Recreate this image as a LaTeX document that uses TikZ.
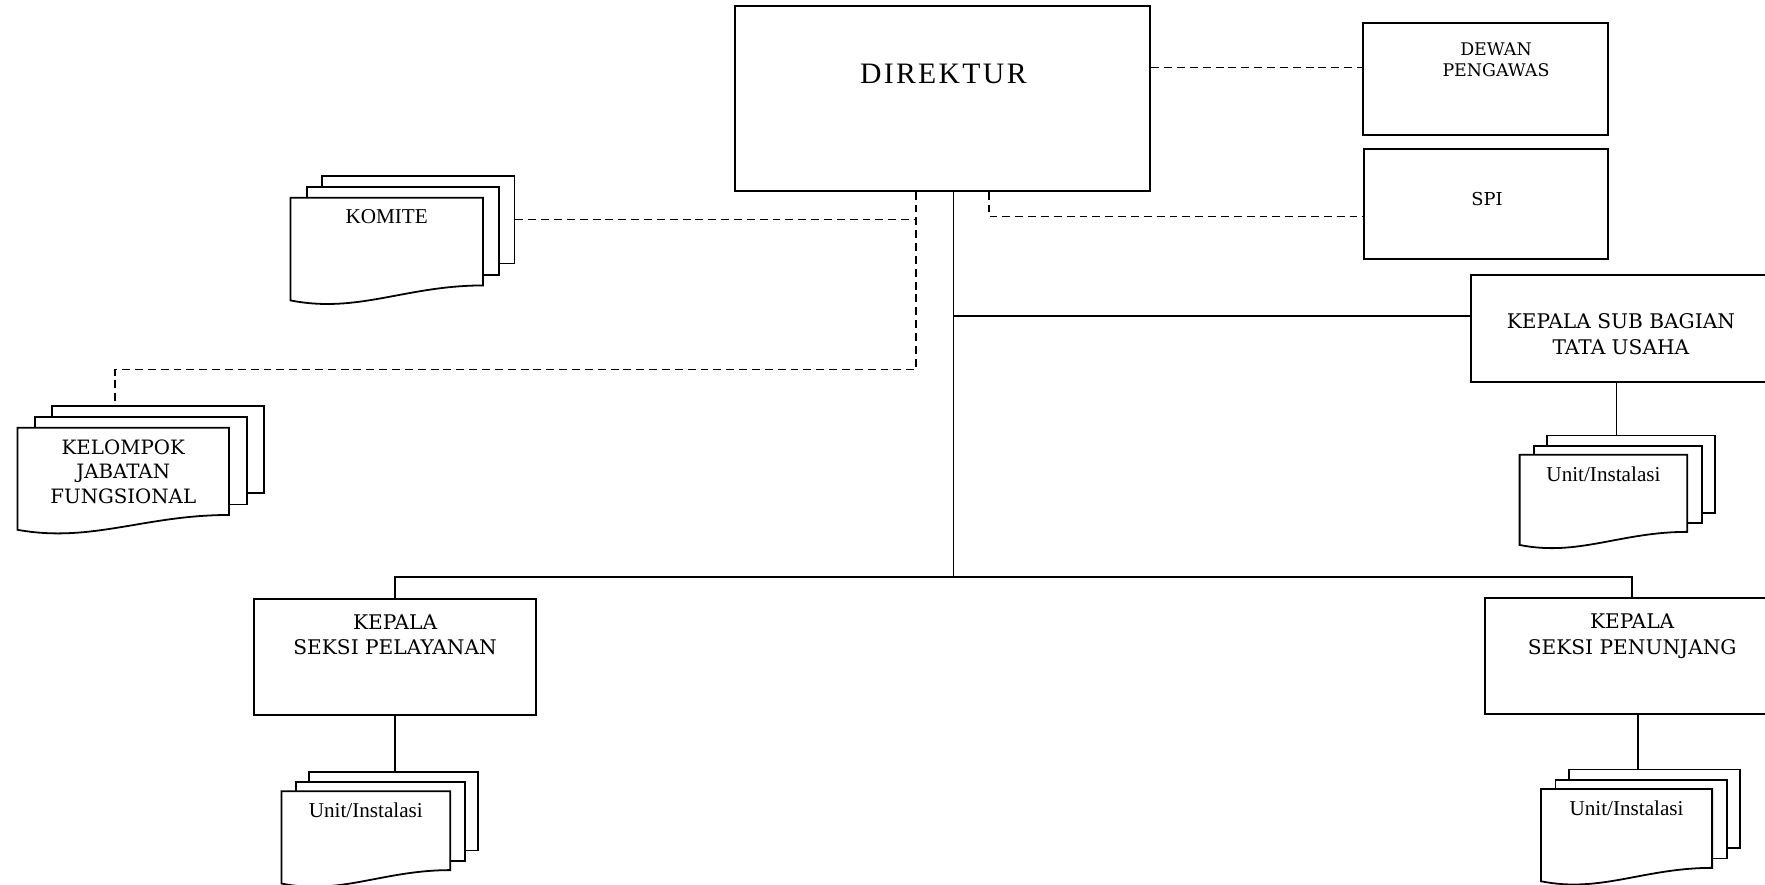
\documentclass[tikz,border=0pt]{standalone}
\usepackage{fontspec}
\setmainfont{Liberation Serif}
\newfontfamily\capfont{DejaVu Serif}
\newfontfamily\headfont[LetterSpace=8]{Liberation Serif}

% stack of three sheets, the front one with a wavy bottom
% #1 text style, #2 name, #3 #4 front top left, #5 width, #6 height, #7 text
\newcommand{\docstack}[7][unittext]{%
  \pgfmathsetmacro\stkdx{0.08*#5}
  \pgfmathsetmacro\stkdy{0.13*#6}
  \pgfmathsetmacro\stkwv{0.17*#6}
  \node[sheet, minimum width={#5*0.02cm}, minimum height={#6*0.02cm}, anchor=north west]
    (#2) at ({#3+2*\stkdx},{#4-2*\stkdy}) {};
  \node[sheet, minimum width={#5*0.02cm}, minimum height={#6*0.02cm}, anchor=north west]
    (#2-mid) at ({#3+\stkdx},{#4-\stkdy}) {};
  \draw[sheet] (#3,#4) -- ({#3+#5},#4) -- ({#3+#5},{#4+#6})
    .. controls ({#3+0.6*#5},{#4+#6}) and ({#3+0.35*#5},{#4+#6+1.9*\stkwv}) .. ({#3},{#4+#6+\stkwv}) -- cycle;
  \node[#1] (#2-text) at ({#3+0.5*#5},{#4+10}) {#7};
}

\begin{document}
\begin{tikzpicture}[
        x=0.02cm, y=-0.02cm,
        box/.style={draw, line width=1pt, inner sep=0pt},
        sheet/.style={draw, fill=white, line width=0.9pt, inner sep=0pt},
        capt/.style={align=center, inner sep=0pt, font=\capfont\fontsize{10.2}{13}\selectfont},
        unittext/.style={align=center, inner sep=0pt, anchor=north, font=\fontsize{10.7}{13}\selectfont},
        grouptext/.style={capt, anchor=north, font=\capfont\fontsize{10}{12.5}\selectfont},
        solidline/.style={line width=0.8pt},
        dashline/.style={line width=0.8pt, dash pattern=on 4pt off 2.5pt}
        ]
        \clip (0,0) rectangle (1568,786);

        % Boxes
        \node[box, minimum width=7.38cm, minimum height=3.28cm] (direktur) at (837.5,87.4) {};
        \node[box, minimum width=4.35cm, minimum height=2cm] (dewan) at (1320,70) {};
        \node[box, minimum width=4.34cm, minimum height=1.95cm] (spi) at (1320,181.5) {};
        \node[box, minimum width=5.32cm, minimum height=1.89cm] (ktu) at (1440,291.7) {};
        \node[box, minimum width=5cm, minimum height=2.05cm] (pelayanan) at (351,583.7) {};
        \node[box, minimum width=5.24cm, minimum height=2.06cm] (penunjang) at (1450,582.5) {};

        % Texts
        \node[capt, font=\headfont\fontsize{15}{17}\selectfont] (direktur-text) at (838,66) {DIREKTUR};
        \node[capt, font=\capfont\fontsize{8.8}{10.5}\selectfont] (dewan-text) at (1329,53) {DEWAN\\PENGAWAS};
        \node[capt, font=\capfont\fontsize{9}{11}\selectfont] (spi-text) at (1321,177) {SPI};
        \node[capt] (ktu-text) at (1440,297) {KEPALA SUB BAGIAN\\TATA USAHA};
        \node[capt] (pelayanan-text) at (351,564) {KEPALA\\SEKSI PELAYANAN};
        \node[capt] (penunjang-text) at (1450,565) {KEPALA\\SEKSI PENUNJANG};

        % Stacks
        \docstack{komite}{258}{175.6}{171}{78}{KOMITE}
        \docstack[grouptext]{kelompok}{15.5}{380}{188}{77.5}{KELOMPOK\\JABATAN\\FUNGSIONAL}
        \docstack{unitsb}{1350}{404}{149}{68.5}{Unit/Instalasi}
        \docstack{unitpel}{250}{703}{150}{70}{Unit/Instalasi}
        \docstack{unitpen}{1369}{701}{152}{70}{Unit/Instalasi}

        % Lines
        \coordinate (trunk) at (847,512.5);
        \coordinate (tu) at (847,280.5);
        \draw[solidline] (direktur.south -| trunk) -- (trunk);
        \draw[solidline] (tu) -- (tu -| ktu.west);
        \draw[solidline] (pelayanan.north) |- (trunk) -| (penunjang.north);
        \draw[solidline] ([xshift=-0.08cm]ktu.south) -- ([xshift=-0.08cm]ktu.south |- unitsb.north);
        \draw[solidline] (pelayanan.south) -- (pelayanan.south |- unitpel.north);
        \draw[solidline] ([xshift=0.1cm]penunjang.south) -- ([xshift=0.1cm]penunjang.south |- unitpen.north);

        % Dashed lines
        \coordinate (dlink) at ([xshift=-0.47cm]direktur.south);
        \draw[dashline] (dlink) -- ++(0,158) -| ([xshift=-0.76cm]kelompok.north);
        \draw[dashline] (komite.east) -- (komite.east -| dlink);
        \draw[dashline] ([xshift=0.82cm]direktur.south) |- ([yshift=-0.22cm]spi.west);
        \draw[dashline] (direktur.east |- 0,60) -- (dewan.west |- 0,60);
\end{tikzpicture}
\end{document}
